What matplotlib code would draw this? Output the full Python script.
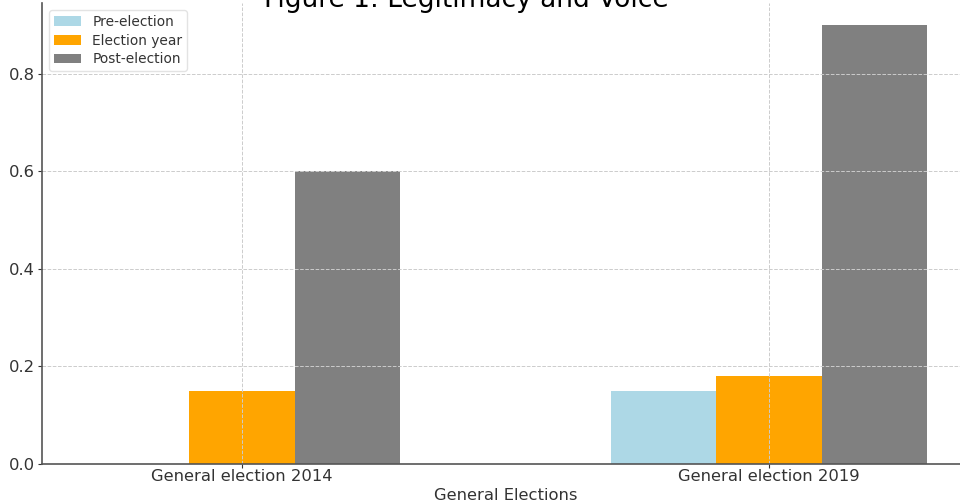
import matplotlib
matplotlib.use("Agg")
from matplotlib import pyplot as plt
import numpy as np

# DATA
categories = ["General election 2014", "General election 2019"]
series_names = ["Pre-election", "Election year", "Post-election"]
pre_election = [0.0, 0.15]
election_year = [0.15, 0.18]
post_election = [0.6, 0.9]
colors = ["lightblue", "orange", "gray"]

plt.rcParams['font.family'] = 'sans-serif'
plt.rcParams['font.sans-serif'] = ['DejaVu Sans']
plt.rcParams['text.color'] = '#333333'
plt.rcParams['axes.labelcolor'] = '#333333'
plt.rcParams['xtick.color'] = '#333333'
plt.rcParams['ytick.color'] = '#333333'

fig = plt.figure(figsize=(9.6, 5.04), dpi=100)
ax = fig.add_axes([42 / 960, 40 / 504, 927 / 960, 461 / 504])

x = np.arange(len(categories))
width = 0.2
for i, (vals, name) in enumerate(zip([pre_election, election_year, post_election], series_names)):
    ax.bar(x + (i - 1) * width, vals, width, label=name, color=colors[i])

ax.set_xticks(x)
ax.set_xticklabels(categories)
ax.tick_params(axis='both', labelsize=11.8, length=3, pad=2)
ax.tick_params(axis='x', pad=0.5)
ax.set_xlabel("General Elections", fontsize=11.8, labelpad=3)
ax.grid(True, linestyle='--', color='#cccccc', linewidth=0.7)

for s in ['top', 'right']:
    ax.spines[s].set_visible(False)
for s in ['left', 'bottom']:
    ax.spines[s].set_color('#555555')
    ax.spines[s].set_linewidth(1.2)

ax.legend(loc='upper left', fontsize=9.9, framealpha=0.8, edgecolor='#dddddd',
          borderaxespad=0.5, borderpad=0.35, labelspacing=0.35)

fig.text(466 / 960, 1 - 7 / 504, "Figure 1: Legitimacy and Voice", fontsize=19,
         ha='center', va='baseline', color='black')

fig.savefig("out.png", dpi=100)
